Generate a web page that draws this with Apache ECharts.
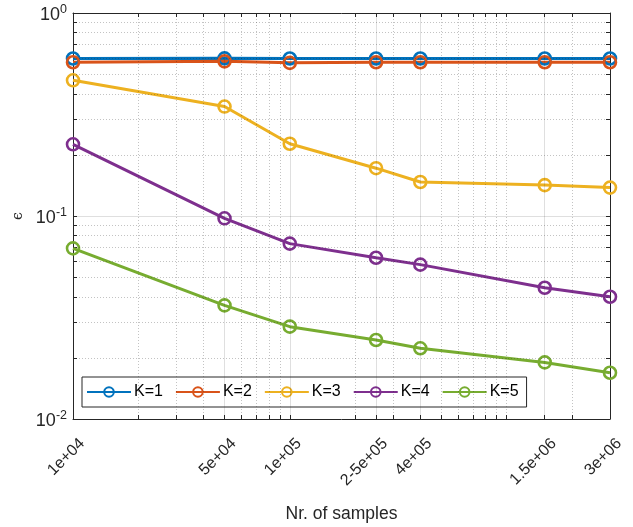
<!DOCTYPE html>
<html>
<head>
<meta charset="utf-8">
<script src="https://cdn.jsdelivr.net/npm/echarts@6/dist/echarts.min.js"></script>
<style>
  html, body { margin: 0; padding: 0; background: #ffffff; }
  #chart { width: 633px; height: 527px; }
</style>
</head>
<body>
<div id="chart"></div>
<script>
// Number of samples used for each run
const samples = [1e4, 5e4, 1e5, 2.5e5, 4e5, 1.5e6, 3e6];
const sampleLabels = ['1e+04', '5e+04', '1e+05', '2-5e+05', '4e+05', '1.5e+06', '3e+06'];

// Error epsilon for each K
const seriesNames = ['K=1', 'K=2', 'K=3', 'K=4', 'K=5'];
const errK1 = [0.597, 0.598, 0.597, 0.597, 0.597, 0.597, 0.597];
const errK2 = [0.572, 0.578, 0.568, 0.572, 0.572, 0.572, 0.572];
const errK3 = [0.466, 0.346, 0.227, 0.172, 0.147, 0.142, 0.138];
const errK4 = [0.2255, 0.0974, 0.0731, 0.0623, 0.0576, 0.0443, 0.0400];
const errK5 = [0.0693, 0.0363, 0.0285, 0.0245, 0.0223, 0.0190, 0.0169];

const yTickValues = [0.01, 0.1, 1];

const colors = ['#0072BD', '#D95319', '#EDB120', '#7E2F8E', '#77AC30'];
const axisColor = '#262626';
const fontFamily = '"Liberation Sans", Arial, sans-serif';

const xMin = 1e4, xMax = 3e6, yMin = 0.01, yMax = 1;

// Log-decade sub-ticks (1..9 x 10^n) inside a range
function subDecadeValues(lo, hi) {
  const out = [];
  for (let e = Math.floor(Math.log10(lo)); e <= Math.ceil(Math.log10(hi)); e++) {
    for (let m = 1; m <= 9; m++) {
      const v = +(m * Math.pow(10, e)).toPrecision(6);
      if (v >= lo * 0.9999 && v <= hi * 1.0001) out.push(v);
    }
  }
  return out;
}
const xMinorValues = subDecadeValues(xMin, xMax);
const yMinorValues = subDecadeValues(yMin, yMax);

const xTickAll = Array.from(new Set(xMinorValues.concat(samples))).sort((a, b) => a - b);
const yTickAll = Array.from(new Set(yMinorValues.concat(yTickValues))).sort((a, b) => a - b);

const majorGrid = { color: 'rgba(38,38,38,0.15)', width: 1, type: 'solid' };
const minorGrid = { color: 'rgba(38,38,38,0.28)', width: 1, type: [1, 2] };

const gridLines = [];
xMinorValues.forEach(v => {
  if (v > xMin && v < xMax && samples.indexOf(v) < 0) gridLines.push({ xAxis: v, lineStyle: minorGrid });
});
samples.forEach(v => {
  if (v > xMin && v < xMax) gridLines.push({ xAxis: v, lineStyle: majorGrid });
});
yMinorValues.forEach(v => {
  if (v > yMin && v < yMax && yTickValues.indexOf(v) < 0) gridLines.push({ yAxis: v, lineStyle: minorGrid });
});
yTickValues.forEach(v => {
  if (v > yMin && v < yMax) gridLines.push({ yAxis: v, lineStyle: majorGrid });
});

const errData = [errK1, errK2, errK3, errK4, errK5];

const dataSeries = seriesNames.map((name, i) => ({
  name: name,
  type: 'line',
  xAxisIndex: 0,
  yAxisIndex: 0,
  z: 3,
  data: samples.map((x, j) => [x, errData[i][j]]),
  symbol: 'circle',
  symbolSize: 12,
  showSymbol: true,
  lineStyle: { color: colors[i], width: 3 },
  itemStyle: { color: 'rgba(255,255,255,0)', borderColor: colors[i], borderWidth: 2.6 },
  emphasis: { disabled: true },
  animation: false
}));

const gridSeries = {
  name: 'grid',
  type: 'line',
  xAxisIndex: 0,
  yAxisIndex: 0,
  z: 1,
  data: [],
  silent: true,
  animation: false,
  markLine: {
    silent: true,
    symbol: 'none',
    animation: false,
    label: { show: false },
    emphasis: { disabled: true },
    data: gridLines
  }
};

const chart = echarts.init(document.getElementById('chart'), null, { renderer: 'canvas' });
chart.setOption({
  backgroundColor: '#ffffff',
  animation: false,
  color: colors,
  grid: { left: 73, right: 23, top: 13, bottom: 108, containLabel: false, outerBoundsMode: 'none' },
  legend: {
    data: seriesNames,
    left: 82,
    top: 377,
    orient: 'horizontal',
    padding: [7, 8, 7, 4],
    itemGap: 12,
    itemWidth: 44,
    itemHeight: 12,
    borderColor: axisColor,
    borderWidth: 1,
    backgroundColor: '#ffffff',
    selectedMode: false,
    textStyle: { color: '#000000', fontFamily: fontFamily, fontSize: 16, padding: [0, 0, 0, -2] }
  },
  xAxis: [
    {
      type: 'log',
      logBase: 10,
      min: xMin,
      max: xMax,
      position: 'bottom',
      name: 'Nr. of samples',
      nameLocation: 'middle',
      nameGap: 86,
      nameTextStyle: { color: axisColor, fontFamily: fontFamily, fontSize: 17.5 },
      axisLine: { show: true, lineStyle: { color: axisColor, width: 1 } },
      axisTick: { show: true, inside: true, length: 4, customValues: xTickAll, lineStyle: { color: axisColor } },
      axisLabel: {
        show: true,
        rotate: 45,
        margin: 13,
        align: 'right',
        verticalAlign: 'top',
        padding: [5, 0, 0, 0],
        customValues: samples,
        formatter: function (v) {
          let best = 0;
          samples.forEach((s, k) => {
            if (Math.abs(Math.log10(s) - Math.log10(v)) < Math.abs(Math.log10(samples[best]) - Math.log10(v))) best = k;
          });
          return sampleLabels[best];
        },
        color: axisColor,
        fontFamily: fontFamily,
        fontSize: 16
      },
      splitLine: { show: false },
      minorTick: { show: false },
      minorSplitLine: { show: false }
    },
    {
      type: 'log',
      logBase: 10,
      min: xMin,
      max: xMax,
      position: 'top',
      axisLine: { show: true, lineStyle: { color: axisColor, width: 1 } },
      axisTick: { show: true, inside: true, length: 4, customValues: xTickAll, lineStyle: { color: axisColor } },
      axisLabel: { show: false },
      splitLine: { show: false }
    }
  ],
  yAxis: [
    {
      type: 'log',
      logBase: 10,
      min: yMin,
      max: yMax,
      position: 'left',
      name: '\u03F5',
      nameLocation: 'middle',
      nameGap: 40,
      nameRotate: 90,
      nameTextStyle: { color: axisColor, fontFamily: '"DejaVu Serif", serif', fontSize: 14 },
      axisLine: { show: true, lineStyle: { color: axisColor, width: 1 } },
      axisTick: { show: true, inside: true, length: 4, customValues: yTickAll, lineStyle: { color: axisColor } },
      axisLabel: {
        show: true,
        margin: 6,
        customValues: yTickValues,
        formatter: function (v) {
          const e = Math.round(Math.log10(v));
          return '{b|10}{s|' + e + '}';
        },
        rich: {
          b: { color: axisColor, fontFamily: fontFamily, fontSize: 18, verticalAlign: 'bottom', padding: [4, 0, 0, 0] },
          s: { color: axisColor, fontFamily: fontFamily, fontSize: 12.5, verticalAlign: 'bottom', padding: [0, 0, 8, 0] }
        }
      },
      splitLine: { show: false },
      minorTick: { show: false },
      minorSplitLine: { show: false }
    },
    {
      type: 'log',
      logBase: 10,
      min: yMin,
      max: yMax,
      position: 'right',
      axisLine: { show: true, lineStyle: { color: axisColor, width: 1 } },
      axisTick: { show: true, inside: true, length: 4, customValues: yTickAll, lineStyle: { color: axisColor } },
      axisLabel: { show: false },
      splitLine: { show: false }
    }
  ],
  series: [gridSeries].concat(dataSeries)
});
</script>
</body>
</html>
